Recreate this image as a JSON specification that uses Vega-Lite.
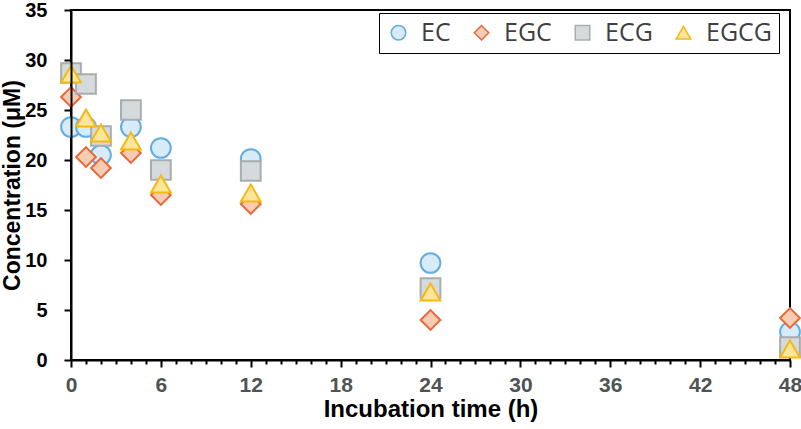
{
  "$schema": "https://vega.github.io/schema/vega-lite/v6.json",
  "description": "Catechin concentration over incubation time",
  "width": 719,
  "height": 350,
  "autosize": {"type": "none"},
  "padding": {"left": 71, "top": 10, "right": 11, "bottom": 69},
  "config": {"view": {"stroke": "black", "strokeWidth": 2}},
  "data": {
    "values": [
      {"t": 0, "c": "EC", "v": 23.3},
      {"t": 1, "c": "EC", "v": 23.3},
      {"t": 2, "c": "EC", "v": 20.5},
      {"t": 4, "c": "EC", "v": 23.3},
      {"t": 6, "c": "EC", "v": 21.2},
      {"t": 12, "c": "EC", "v": 20.1},
      {"t": 24, "c": "EC", "v": 9.7},
      {"t": 48, "c": "EC", "v": 2.8},
      {"t": 0, "c": "EGC", "v": 26.3},
      {"t": 1, "c": "EGC", "v": 20.3},
      {"t": 2, "c": "EGC", "v": 19.2},
      {"t": 4, "c": "EGC", "v": 20.7},
      {"t": 6, "c": "EGC", "v": 16.5},
      {"t": 12, "c": "EGC", "v": 15.6},
      {"t": 24, "c": "EGC", "v": 4.0},
      {"t": 48, "c": "EGC", "v": 4.2},
      {"t": 0, "c": "ECG", "v": 28.7},
      {"t": 1, "c": "ECG", "v": 27.6},
      {"t": 2, "c": "ECG", "v": 22.4},
      {"t": 4, "c": "ECG", "v": 25.0},
      {"t": 6, "c": "ECG", "v": 19.0},
      {"t": 12, "c": "ECG", "v": 18.9},
      {"t": 24, "c": "ECG", "v": 7.2},
      {"t": 48, "c": "ECG", "v": 1.3},
      {"t": 0, "c": "EGCG", "v": 28.6},
      {"t": 1, "c": "EGCG", "v": 24.2},
      {"t": 2, "c": "EGCG", "v": 22.7},
      {"t": 4, "c": "EGCG", "v": 21.9},
      {"t": 6, "c": "EGCG", "v": 17.6},
      {"t": 12, "c": "EGCG", "v": 16.7},
      {"t": 24, "c": "EGCG", "v": 6.8},
      {"t": 48, "c": "EGCG", "v": 1.1}
    ]
  },
  "mark": {"type": "point", "filled": false, "opacity": 1, "fillOpacity": 1, "strokeWidth": 2, "size": 390},
  "encoding": {
    "x": {
      "field": "t",
      "type": "quantitative",
      "scale": {"domain": [0, 48], "nice": false, "zero": false},
      "axis": {
        "values": [0,1,2,3,4,5,6,7,8,9,10,11,12,13,14,15,16,17,18,19,20,21,22,23,24,25,26,27,28,29,30,31,32,33,34,35,36,37,38,39,40,41,42,43,44,45,46,47,48],
        "title": "Incubation time (h)",
        "grid": false,
        "zindex": 1,
        "domainColor": "black",
        "domainWidth": 2,
        "tickColor": "black",
        "tickWidth": 2,
        "tickSize": {"expr": "datum.value % 6 === 0 ? 7 : 4"},
        "labelExpr": "datum.value % 6 === 0 ? datum.label : ''",
        "labelOverlap": false,
        "labelFlush": false,
        "labelFont": "Liberation Sans",
        "labelFontWeight": "bold",
        "labelFontSize": 21,
        "labelColor": "#4d5454",
        "labelPadding": 7,
        "titleFont": "Liberation Sans",
        "titleFontWeight": "bold",
        "titleFontSize": 24,
        "titleColor": "black",
        "titlePadding": 2
      }
    },
    "y": {
      "field": "v",
      "type": "quantitative",
      "scale": {"domain": [0, 35], "nice": false},
      "axis": {
        "values": [0, 5, 10, 15, 20, 25, 30, 35],
        "title": "Concentration (μM)",
        "grid": false,
        "zindex": 1,
        "domainColor": "black",
        "domainWidth": 2,
        "tickColor": "black",
        "tickWidth": 2,
        "tickSize": 7,
        "labelFont": "Liberation Sans",
        "labelFontWeight": "bold",
        "labelFontSize": 20,
        "labelColor": "black",
        "labelPadding": 17,
        "labelFlush": false,
        "labelOverlap": false,
        "titleFont": "Liberation Sans",
        "titleFontWeight": "bold",
        "titleFontSize": 23,
        "titleColor": "black",
        "titleX": -59,
        "titleY": 175,
        "titleBaseline": "middle",
        "titleAngle": -90
      }
    },
    "shape": {
      "field": "c",
      "type": "nominal",
      "scale": {"domain": ["EC", "EGC", "ECG", "EGCG"], "range": ["circle", "diamond", "square", "triangle-up"]},
      "legend": {
        "title": null,
        "orient": "none",
        "legendX": 308,
        "legendY": 3,
        "direction": "horizontal",
        "columns": 4,
        "labelFont": "Open Sans",
        "labelFontSize": 25,
        "labelColor": "#3f3f3f",
        "labelOffset": 10,
        "columnPadding": 18,
        "symbolSize": 210,
        "symbolStrokeWidth": 1.5,
        "padding": 7,
        "strokeColor": "black",
        "fillColor": "white"
      }
    },
    "fill": {
      "field": "c",
      "type": "nominal",
      "scale": {"domain": ["EC", "EGC", "ECG", "EGCG"], "range": ["#d8ebf8", "#f8cbb3", "#d5dbdc", "#fde69c"]}
    },
    "stroke": {
      "field": "c",
      "type": "nominal",
      "scale": {"domain": ["EC", "EGC", "ECG", "EGCG"], "range": ["#62ade2", "#e8683a", "#a8adae", "#f4b913"]}
    }
  }
}
